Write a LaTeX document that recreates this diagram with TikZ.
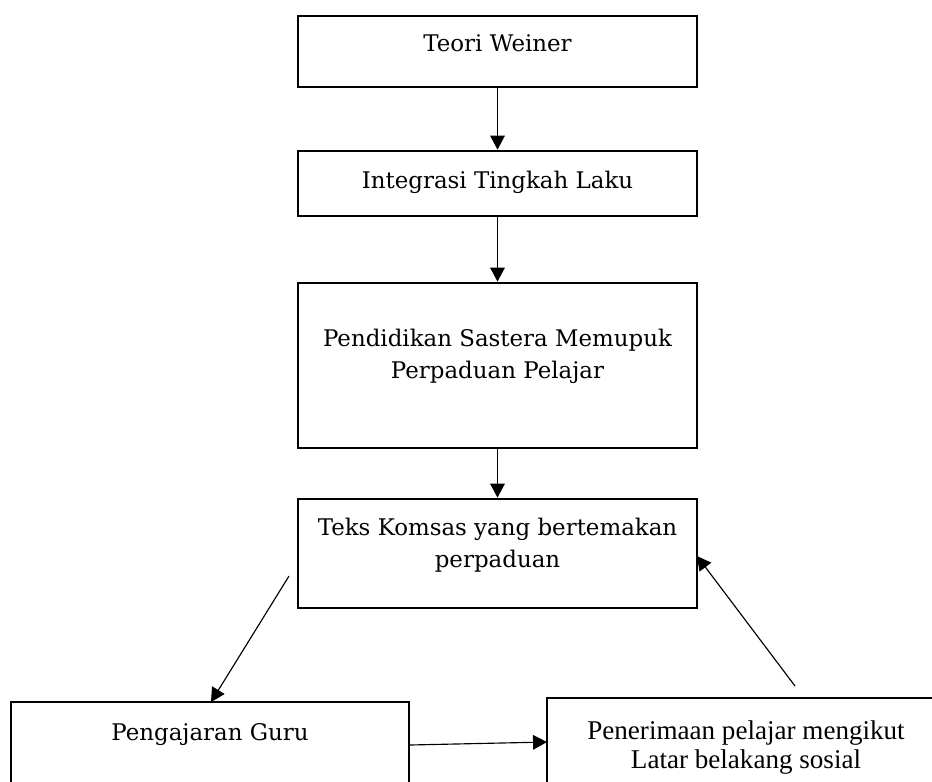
\documentclass[tikz,border=0pt]{standalone}
\usepackage{fontspec}
\setmainfont{DejaVu Serif}
\newfontfamily\timesfont{Liberation Serif}
\usetikzlibrary{arrows.meta}
\begin{document}
\begin{tikzpicture}[x=0.48pt,y=-0.48pt,
  box/.style={draw,line width=1.3pt,inner sep=0pt},
  txt/.style={align=center,inner sep=0pt,font=\fontsize{11pt}{15.5pt}\selectfont},
  ttxt/.style={align=center,inner sep=0pt,font=\timesfont\fontsize{13pt}{14pt}\selectfont},
  conn/.style={line width=0.55pt,-{Triangle[length=6.7pt,width=7pt]}}]
\useasboundingbox (0,0) rectangle (932,781);
\begin{scope}
\clip (0,0) rectangle (932,781);
\node[box,minimum width=399*0.48pt,minimum height=71*0.48pt] (b1) at (497.5,51.5) {};
\node[box,minimum width=399*0.48pt,minimum height=65*0.48pt] (b2) at (497.5,183.5) {};
\node[box,minimum width=399*0.48pt,minimum height=165*0.48pt] (b3) at (497.5,365.5) {};
\node[box,minimum width=399*0.48pt,minimum height=109*0.48pt] (b4) at (497.5,553.5) {};
\node[box,minimum width=398*0.48pt,minimum height=100*0.48pt] (b5) at (210,752) {};
\node[box,minimum width=400*0.48pt,minimum height=100*0.48pt] (b6) at (747,748) {};
\node[txt] (t1) at (497.5,43) {Teori Weiner};
\node[txt] (t2) at (497.5,182) {Integrasi Tingkah Laku};
\node[txt] (t3) at (497.5,356) {Pendidikan Sastera Memupuk\\Perpaduan Pelajar};
\node[txt] (t4) at (497.5,545) {Teks Komsas yang bertemakan\\perpaduan};
\node[txt] (t5) at (210,735) {Pengajaran Guru};
\node[ttxt] (t6) at (746,747.5) {Penerimaan pelajar mengikut\\Latar belakang sosial};
\draw[conn] (b1.south) -- (b2.north);
\draw[conn] (b2.south) -- (b3.north);
\draw[conn] (b3.south) -- (b4.north);
\coordinate (d1s) at (289,576);
\coordinate (d1e) at (211,702);
\draw[conn] (d1s) -- (d1e);
\coordinate (d2s) at (795,686);
\coordinate (d2e) at (697,556);
\draw[conn] (d2s) -- (d2e);
\coordinate (h1s) at (409,745);
\coordinate (h1e) at (547,742);
\draw[conn] (h1s) -- (h1e);
\end{scope}
\end{tikzpicture}
\end{document}
